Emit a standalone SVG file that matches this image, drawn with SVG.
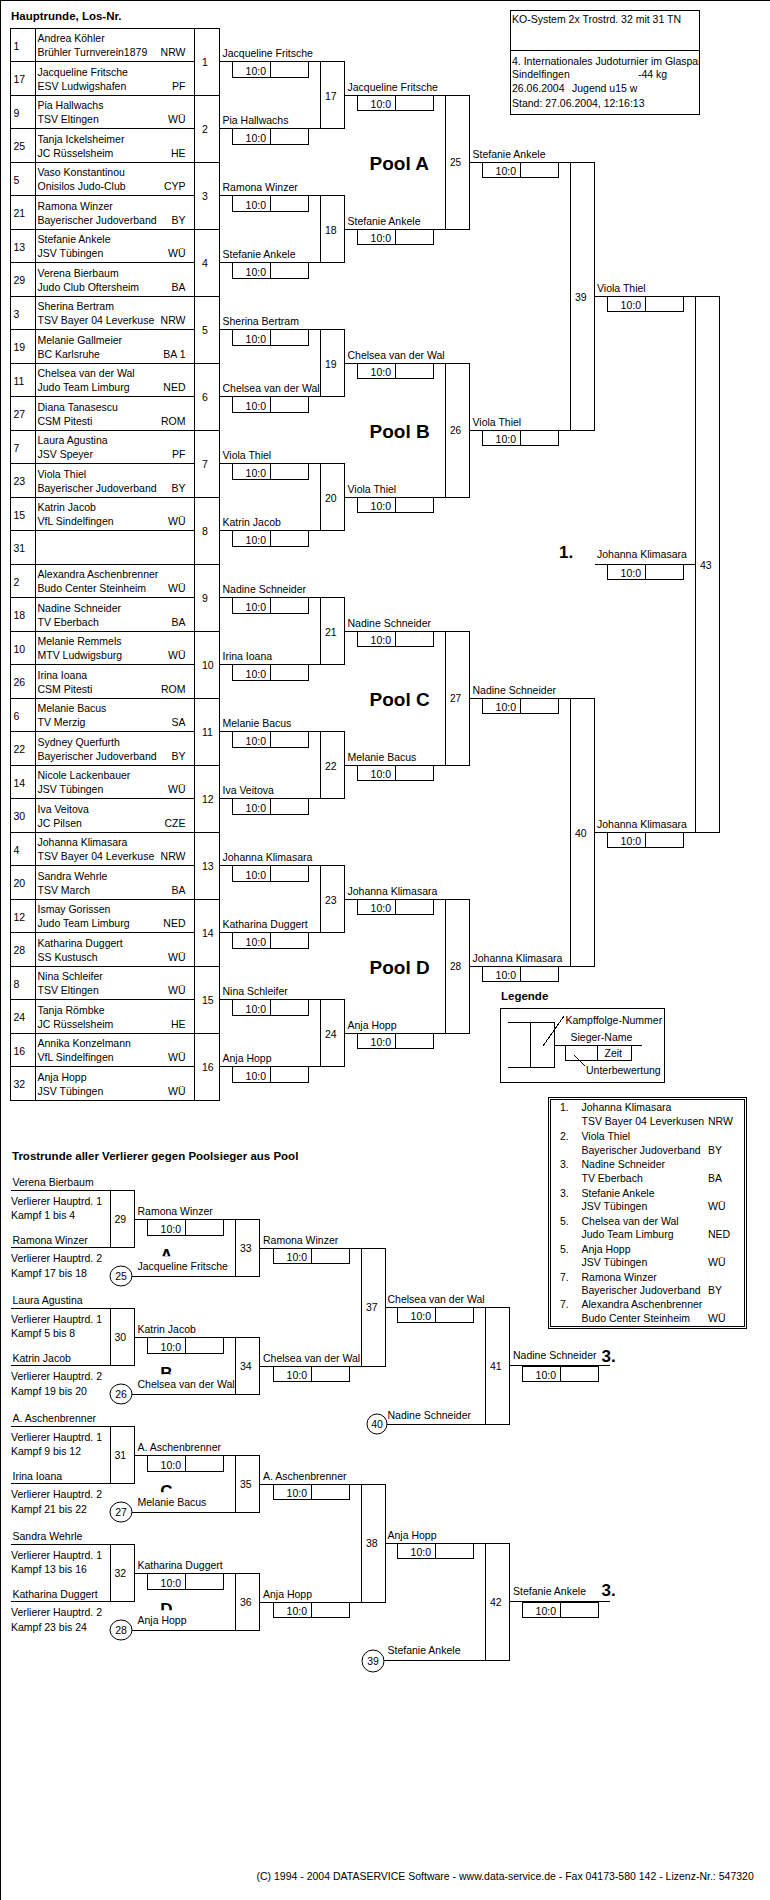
<svg xmlns="http://www.w3.org/2000/svg" xmlns:xlink="http://www.w3.org/1999/xlink" width="770" height="1900" viewBox="0 0 770 1900">
<style>
text{font-family:"Liberation Sans",Arial,sans-serif;font-size:10.5px;fill:#000}
rect,path,ellipse{fill:none;stroke:#000;stroke-width:1;shape-rendering:crispEdges}
ellipse{shape-rendering:auto}
.e{text-anchor:end}.m{text-anchor:middle}
.b{font-weight:bold;font-size:11.5px}
.pool{font-weight:bold;font-size:19px}
.rk{font-weight:bold;font-size:17px}
.n2{font-size:10px}
.lt{font-weight:bold;font-size:17px;text-anchor:middle}
</style>
<defs>
<g id="sb"><rect x="0" y="0" width="76" height="15.5"/><path d="M38 0V15.5"/></g>
<clipPath id="lc"><rect x="150" y="57" width="40" height="9.3"/></clipPath>
<clipPath id="hc"><rect x="511" y="51" width="188.5" height="63"/></clipPath>
</defs>
<rect x="0" y="0" width="770" height="1900" fill="#fff" stroke="none"/>

<text class="b" x="11" y="20">Hauptrunde, Los-Nr.</text>

<g id="header">
<rect x="510.5" y="10.5" width="189" height="104"/>
<path d="M510.5 50.5H699.5"/>
<text x="512" y="22.5">KO-System 2x Trostrd. 32 mit 31 TN</text>
<text x="512" y="65" clip-path="url(#hc)">4. Internationales Judoturnier im Glaspalast</text>
<text x="512" y="78">Sindelfingen</text>
<text x="638" y="78">-44 kg</text>
<text x="512" y="92">26.06.2004</text>
<text x="572" y="92">Jugend u15 w</text>
<text x="512" y="106.5">Stand: 27.06.2004, 12:16:13</text>
</g>

<g id="table">
<rect x="10.5" y="28" width="209" height="1072"/>
<path d="M35.5 28V1100M194.5 28V1100
M10.5 61.5H194.5M10.5 95H219.5M10.5 128.5H194.5M10.5 162H219.5M10.5 195.5H194.5M10.5 229H219.5M10.5 262.5H194.5M10.5 296H219.5
M10.5 329.5H194.5M10.5 363H219.5M10.5 396.5H194.5M10.5 430H219.5M10.5 463.5H194.5M10.5 497H219.5M10.5 530.5H194.5M10.5 564H219.5
M10.5 597.5H194.5M10.5 631H219.5M10.5 664.5H194.5M10.5 698H219.5M10.5 731.5H194.5M10.5 765H219.5M10.5 798.5H194.5M10.5 832H219.5
M10.5 865.5H194.5M10.5 899H219.5M10.5 932.5H194.5M10.5 966H219.5M10.5 999.5H194.5M10.5 1033H219.5M10.5 1066.5H194.5"/>
</g>

<g id="p01" transform="translate(0,28)"><text x="13.5" y="21.5">1</text><text x="37.5" y="14">Andrea Köhler</text><text x="37.5" y="28">Brühler Turnverein1879</text><text class="e" x="185.5" y="28">NRW</text></g>
<g id="p17" transform="translate(0,61.5)"><text x="13.5" y="21.5">17</text><text x="37.5" y="14">Jacqueline Fritsche</text><text x="37.5" y="28">ESV Ludwigshafen</text><text class="e" x="185.5" y="28">PF</text></g>
<g id="p09" transform="translate(0,95)"><text x="13.5" y="21.5">9</text><text x="37.5" y="14">Pia Hallwachs</text><text x="37.5" y="28">TSV Eltingen</text><text class="e" x="185.5" y="28">WÜ</text></g>
<g id="p25" transform="translate(0,128.5)"><text x="13.5" y="21.5">25</text><text x="37.5" y="14">Tanja Ickelsheimer</text><text x="37.5" y="28">JC Rüsselsheim</text><text class="e" x="185.5" y="28">HE</text></g>
<g id="p05" transform="translate(0,162)"><text x="13.5" y="21.5">5</text><text x="37.5" y="14">Vaso Konstantinou</text><text x="37.5" y="28">Onisilos Judo-Club</text><text class="e" x="185.5" y="28">CYP</text></g>
<g id="p21" transform="translate(0,195.5)"><text x="13.5" y="21.5">21</text><text x="37.5" y="14">Ramona Winzer</text><text x="37.5" y="28">Bayerischer Judoverband</text><text class="e" x="185.5" y="28">BY</text></g>
<g id="p13" transform="translate(0,229)"><text x="13.5" y="21.5">13</text><text x="37.5" y="14">Stefanie Ankele</text><text x="37.5" y="28">JSV Tübingen</text><text class="e" x="185.5" y="28">WÜ</text></g>
<g id="p29" transform="translate(0,262.5)"><text x="13.5" y="21.5">29</text><text x="37.5" y="14">Verena Bierbaum</text><text x="37.5" y="28">Judo Club Oftersheim</text><text class="e" x="185.5" y="28">BA</text></g>
<g id="p03" transform="translate(0,296)"><text x="13.5" y="21.5">3</text><text x="37.5" y="14">Sherina Bertram</text><text x="37.5" y="28">TSV Bayer 04 Leverkuse</text><text class="e" x="185.5" y="28">NRW</text></g>
<g id="p19" transform="translate(0,329.5)"><text x="13.5" y="21.5">19</text><text x="37.5" y="14">Melanie Gallmeier</text><text x="37.5" y="28">BC Karlsruhe</text><text class="e" x="185.5" y="28">BA 1</text></g>
<g id="p11" transform="translate(0,363)"><text x="13.5" y="21.5">11</text><text x="37.5" y="14">Chelsea van der Wal</text><text x="37.5" y="28">Judo Team Limburg</text><text class="e" x="185.5" y="28">NED</text></g>
<g id="p27" transform="translate(0,396.5)"><text x="13.5" y="21.5">27</text><text x="37.5" y="14">Diana Tanasescu</text><text x="37.5" y="28">CSM Pitesti</text><text class="e" x="185.5" y="28">ROM</text></g>
<g id="p07" transform="translate(0,430)"><text x="13.5" y="21.5">7</text><text x="37.5" y="14">Laura Agustina</text><text x="37.5" y="28">JSV Speyer</text><text class="e" x="185.5" y="28">PF</text></g>
<g id="p23" transform="translate(0,463.5)"><text x="13.5" y="21.5">23</text><text x="37.5" y="14">Viola Thiel</text><text x="37.5" y="28">Bayerischer Judoverband</text><text class="e" x="185.5" y="28">BY</text></g>
<g id="p15" transform="translate(0,497)"><text x="13.5" y="21.5">15</text><text x="37.5" y="14">Katrin Jacob</text><text x="37.5" y="28">VfL Sindelfingen</text><text class="e" x="185.5" y="28">WÜ</text></g>
<g id="p31" transform="translate(0,530.5)"><text x="13.5" y="21.5">31</text></g>
<g id="p02" transform="translate(0,564)"><text x="13.5" y="21.5">2</text><text x="37.5" y="14">Alexandra Aschenbrenner</text><text x="37.5" y="28">Budo Center Steinheim</text><text class="e" x="185.5" y="28">WÜ</text></g>
<g id="p18" transform="translate(0,597.5)"><text x="13.5" y="21.5">18</text><text x="37.5" y="14">Nadine Schneider</text><text x="37.5" y="28">TV Eberbach</text><text class="e" x="185.5" y="28">BA</text></g>
<g id="p10" transform="translate(0,631)"><text x="13.5" y="21.5">10</text><text x="37.5" y="14">Melanie Remmels</text><text x="37.5" y="28">MTV Ludwigsburg</text><text class="e" x="185.5" y="28">WÜ</text></g>
<g id="p26" transform="translate(0,664.5)"><text x="13.5" y="21.5">26</text><text x="37.5" y="14">Irina Ioana</text><text x="37.5" y="28">CSM Pitesti</text><text class="e" x="185.5" y="28">ROM</text></g>
<g id="p06" transform="translate(0,698)"><text x="13.5" y="21.5">6</text><text x="37.5" y="14">Melanie Bacus</text><text x="37.5" y="28">TV Merzig</text><text class="e" x="185.5" y="28">SA</text></g>
<g id="p22" transform="translate(0,731.5)"><text x="13.5" y="21.5">22</text><text x="37.5" y="14">Sydney Querfurth</text><text x="37.5" y="28">Bayerischer Judoverband</text><text class="e" x="185.5" y="28">BY</text></g>
<g id="p14" transform="translate(0,765)"><text x="13.5" y="21.5">14</text><text x="37.5" y="14">Nicole Lackenbauer</text><text x="37.5" y="28">JSV Tübingen</text><text class="e" x="185.5" y="28">WÜ</text></g>
<g id="p30" transform="translate(0,798.5)"><text x="13.5" y="21.5">30</text><text x="37.5" y="14">Iva Veitova</text><text x="37.5" y="28">JC Pilsen</text><text class="e" x="185.5" y="28">CZE</text></g>
<g id="p04" transform="translate(0,832)"><text x="13.5" y="21.5">4</text><text x="37.5" y="14">Johanna Klimasara</text><text x="37.5" y="28">TSV Bayer 04 Leverkuse</text><text class="e" x="185.5" y="28">NRW</text></g>
<g id="p20" transform="translate(0,865.5)"><text x="13.5" y="21.5">20</text><text x="37.5" y="14">Sandra Wehrle</text><text x="37.5" y="28">TSV March</text><text class="e" x="185.5" y="28">BA</text></g>
<g id="p12" transform="translate(0,899)"><text x="13.5" y="21.5">12</text><text x="37.5" y="14">Ismay Gorissen</text><text x="37.5" y="28">Judo Team Limburg</text><text class="e" x="185.5" y="28">NED</text></g>
<g id="p28" transform="translate(0,932.5)"><text x="13.5" y="21.5">28</text><text x="37.5" y="14">Katharina Duggert</text><text x="37.5" y="28">SS Kustusch</text><text class="e" x="185.5" y="28">WÜ</text></g>
<g id="p08" transform="translate(0,966)"><text x="13.5" y="21.5">8</text><text x="37.5" y="14">Nina Schleifer</text><text x="37.5" y="28">TSV Eltingen</text><text class="e" x="185.5" y="28">WÜ</text></g>
<g id="p24" transform="translate(0,999.5)"><text x="13.5" y="21.5">24</text><text x="37.5" y="14">Tanja Römbke</text><text x="37.5" y="28">JC Rüsselsheim</text><text class="e" x="185.5" y="28">HE</text></g>
<g id="p16" transform="translate(0,1033)"><text x="13.5" y="21.5">16</text><text x="37.5" y="14">Annika Konzelmann</text><text x="37.5" y="28">VfL Sindelfingen</text><text class="e" x="185.5" y="28">WÜ</text></g>
<g id="p32" transform="translate(0,1066.5)"><text x="13.5" y="21.5">32</text><text x="37.5" y="14">Anja Hopp</text><text x="37.5" y="28">JSV Tübingen</text><text class="e" x="185.5" y="28">WÜ</text></g>

<g id="connectors">
<path d="M219.5 61.5H344.5M219.5 128.5H344.5M219.5 195.5H344.5M219.5 262.5H344.5M219.5 329.5H344.5M219.5 396.5H344.5M219.5 463.5H344.5M219.5 530.5H344.5
M219.5 597.5H344.5M219.5 664.5H344.5M219.5 731.5H344.5M219.5 798.5H344.5M219.5 865.5H344.5M219.5 932.5H344.5M219.5 999.5H344.5M219.5 1066.5H344.5"/>
<path d="M344.5 95H469.5M344.5 229H469.5M344.5 363H469.5M344.5 497H469.5M344.5 631H469.5M344.5 765H469.5M344.5 899H469.5M344.5 1033H469.5"/>
<path d="M469.5 162H594.5M469.5 430H594.5M469.5 698H594.5M469.5 966H594.5"/>
<path d="M594.5 296H719.5M594.5 832H719.5M595 564H695.5"/>
<path d="M10.5 1190.5H134.5M10.5 1247.5H134.5M132 1276.5H259.5M134.5 1219.5H259.5M259.5 1248H385.5
M10.5 1308.5H134.5M10.5 1365.5H134.5M132 1394.5H259.5M134.5 1337.5H259.5M259.5 1366H385.5
M10.5 1426.5H134.5M10.5 1483.5H134.5M132 1512.5H259.5M134.5 1455.5H259.5M259.5 1484H385.5
M10.5 1544.5H134.5M10.5 1601.5H134.5M132 1630.5H259.5M134.5 1573.5H259.5M259.5 1602H385.5"/>
<path d="M385.5 1307H509.5M385.5 1543H509.5M387 1424H509.5M384 1660H509.5M509.5 1365.5H610M509.5 1601.5H610"/>
</g>

<g id="m1" transform="translate(0,61.5)"><text x="202" y="4.5">1</text><text x="222.5" y="-4.5">Jacqueline Fritsche</text><use href="#sb" x="232.5"/><text class="e" x="266" y="13">10:0</text></g>
<g id="m2" transform="translate(0,128.5)"><text x="202" y="4.5">2</text><text x="222.5" y="-4.5">Pia Hallwachs</text><use href="#sb" x="232.5"/><text class="e" x="266" y="13">10:0</text></g>
<g id="m3" transform="translate(0,195.5)"><text x="202" y="4.5">3</text><text x="222.5" y="-4.5">Ramona Winzer</text><use href="#sb" x="232.5"/><text class="e" x="266" y="13">10:0</text></g>
<g id="m4" transform="translate(0,262.5)"><text x="202" y="4.5">4</text><text x="222.5" y="-4.5">Stefanie Ankele</text><use href="#sb" x="232.5"/><text class="e" x="266" y="13">10:0</text></g>
<g id="m5" transform="translate(0,329.5)"><text x="202" y="4.5">5</text><text x="222.5" y="-4.5">Sherina Bertram</text><use href="#sb" x="232.5"/><text class="e" x="266" y="13">10:0</text></g>
<g id="m6" transform="translate(0,396.5)"><text x="202" y="4.5">6</text><text x="222.5" y="-4.5">Chelsea van der Wal</text><use href="#sb" x="232.5"/><text class="e" x="266" y="13">10:0</text></g>
<g id="m7" transform="translate(0,463.5)"><text x="202" y="4.5">7</text><text x="222.5" y="-4.5">Viola Thiel</text><use href="#sb" x="232.5"/><text class="e" x="266" y="13">10:0</text></g>
<g id="m8" transform="translate(0,530.5)"><text x="202" y="4.5">8</text><text x="222.5" y="-4.5">Katrin Jacob</text><use href="#sb" x="232.5"/><text class="e" x="266" y="13">10:0</text></g>
<g id="m9" transform="translate(0,597.5)"><text x="202" y="4.5">9</text><text x="222.5" y="-4.5">Nadine Schneider</text><use href="#sb" x="232.5"/><text class="e" x="266" y="13">10:0</text></g>
<g id="m10" transform="translate(0,664.5)"><text x="202" y="4.5">10</text><text x="222.5" y="-4.5">Irina Ioana</text><use href="#sb" x="232.5"/><text class="e" x="266" y="13">10:0</text></g>
<g id="m11" transform="translate(0,731.5)"><text x="202" y="4.5">11</text><text x="222.5" y="-4.5">Melanie Bacus</text><use href="#sb" x="232.5"/><text class="e" x="266" y="13">10:0</text></g>
<g id="m12" transform="translate(0,798.5)"><text x="202" y="4.5">12</text><text x="222.5" y="-4.5">Iva Veitova</text><use href="#sb" x="232.5"/><text class="e" x="266" y="13">10:0</text></g>
<g id="m13" transform="translate(0,865.5)"><text x="202" y="4.5">13</text><text x="222.5" y="-4.5">Johanna Klimasara</text><use href="#sb" x="232.5"/><text class="e" x="266" y="13">10:0</text></g>
<g id="m14" transform="translate(0,932.5)"><text x="202" y="4.5">14</text><text x="222.5" y="-4.5">Katharina Duggert</text><use href="#sb" x="232.5"/><text class="e" x="266" y="13">10:0</text></g>
<g id="m15" transform="translate(0,999.5)"><text x="202" y="4.5">15</text><text x="222.5" y="-4.5">Nina Schleifer</text><use href="#sb" x="232.5"/><text class="e" x="266" y="13">10:0</text></g>
<g id="m16" transform="translate(0,1066.5)"><text x="202" y="4.5">16</text><text x="222.5" y="-4.5">Anja Hopp</text><use href="#sb" x="232.5"/><text class="e" x="266" y="13">10:0</text></g>

<g id="m17" transform="translate(0,95)"><rect x="320.5" y="-33.5" width="24" height="67"/><text x="325" y="4.5">17</text><text x="347.5" y="-4.5">Jacqueline Fritsche</text><use href="#sb" x="357.5"/><text class="e" x="391" y="13">10:0</text></g>
<g id="m18" transform="translate(0,229)"><rect x="320.5" y="-33.5" width="24" height="67"/><text x="325" y="4.5">18</text><text x="347.5" y="-4.5">Stefanie Ankele</text><use href="#sb" x="357.5"/><text class="e" x="391" y="13">10:0</text></g>
<g id="m19" transform="translate(0,363)"><rect x="320.5" y="-33.5" width="24" height="67"/><text x="325" y="4.5">19</text><text x="347.5" y="-4.5">Chelsea van der Wal</text><use href="#sb" x="357.5"/><text class="e" x="391" y="13">10:0</text></g>
<g id="m20" transform="translate(0,497)"><rect x="320.5" y="-33.5" width="24" height="67"/><text x="325" y="4.5">20</text><text x="347.5" y="-4.5">Viola Thiel</text><use href="#sb" x="357.5"/><text class="e" x="391" y="13">10:0</text></g>
<g id="m21" transform="translate(0,631)"><rect x="320.5" y="-33.5" width="24" height="67"/><text x="325" y="4.5">21</text><text x="347.5" y="-4.5">Nadine Schneider</text><use href="#sb" x="357.5"/><text class="e" x="391" y="13">10:0</text></g>
<g id="m22" transform="translate(0,765)"><rect x="320.5" y="-33.5" width="24" height="67"/><text x="325" y="4.5">22</text><text x="347.5" y="-4.5">Melanie Bacus</text><use href="#sb" x="357.5"/><text class="e" x="391" y="13">10:0</text></g>
<g id="m23" transform="translate(0,899)"><rect x="320.5" y="-33.5" width="24" height="67"/><text x="325" y="4.5">23</text><text x="347.5" y="-4.5">Johanna Klimasara</text><use href="#sb" x="357.5"/><text class="e" x="391" y="13">10:0</text></g>
<g id="m24" transform="translate(0,1033)"><rect x="320.5" y="-33.5" width="24" height="67"/><text x="325" y="4.5">24</text><text x="347.5" y="-4.5">Anja Hopp</text><use href="#sb" x="357.5"/><text class="e" x="391" y="13">10:0</text></g>

<g id="m25" transform="translate(0,162)"><rect x="445.5" y="-67" width="24" height="134"/><text class="n2" x="450" y="4">25</text><text class="pool" x="369.5" y="8">Pool A</text><text x="472.5" y="-4.5">Stefanie Ankele</text><use href="#sb" x="482.5"/><text class="e" x="516" y="13">10:0</text></g>
<g id="m26" transform="translate(0,430)"><rect x="445.5" y="-67" width="24" height="134"/><text class="n2" x="450" y="4">26</text><text class="pool" x="369.5" y="8">Pool B</text><text x="472.5" y="-4.5">Viola Thiel</text><use href="#sb" x="482.5"/><text class="e" x="516" y="13">10:0</text></g>
<g id="m27" transform="translate(0,698)"><rect x="445.5" y="-67" width="24" height="134"/><text class="n2" x="450" y="4">27</text><text class="pool" x="369.5" y="8">Pool C</text><text x="472.5" y="-4.5">Nadine Schneider</text><use href="#sb" x="482.5"/><text class="e" x="516" y="13">10:0</text></g>
<g id="m28" transform="translate(0,966)"><rect x="445.5" y="-67" width="24" height="134"/><text class="n2" x="450" y="4">28</text><text class="pool" x="369.5" y="8">Pool D</text><text x="472.5" y="-4.5">Johanna Klimasara</text><use href="#sb" x="482.5"/><text class="e" x="516" y="13">10:0</text></g>

<g id="m39" transform="translate(0,296)"><rect x="570.5" y="-134" width="24" height="268"/><text x="575" y="5">39</text><text x="597" y="-4.5">Viola Thiel</text><use href="#sb" x="607.5"/><text class="e" x="641" y="13">10:0</text></g>
<g id="m40" transform="translate(0,832)"><rect x="570.5" y="-134" width="24" height="268"/><text x="575" y="5">40</text><text x="597" y="-4.5">Johanna Klimasara</text><use href="#sb" x="607.5"/><text class="e" x="641" y="13">10:0</text></g>
<g id="m43" transform="translate(0,564)"><rect x="695.5" y="-268" width="24" height="536"/><text x="700" y="4.5">43</text><text class="rk" x="559" y="-6.5">1.</text><text x="597" y="-6.5">Johanna Klimasara</text><use href="#sb" x="607.5"/><text class="e" x="641" y="13">10:0</text></g>

<g id="legend">
<text class="b" x="501" y="1000">Legende</text>
<rect x="500.5" y="1008.5" width="164" height="74"/>
<path d="M507.5 1022.5H530.5M507.5 1067.5H530.5M554.5 1045.5H641.5M597.5 1045.5V1060M543 1046L564 1016M574 1055L585 1066"/>
<rect x="530.5" y="1022.5" width="24" height="45"/>
<rect x="565.5" y="1045.5" width="66" height="14.5"/>
<text x="565.5" y="1024">Kampffolge-Nummer</text>
<text x="570.5" y="1041">Sieger-Name</text>
<text x="604.5" y="1057">Zeit</text>
<text x="586" y="1073.5">Unterbewertung</text>
</g>

<g id="ranking">
<rect x="548.5" y="1097.5" width="198" height="231"/>
<rect x="550.5" y="1099.5" width="194" height="227"/>
<text x="560" y="1111">1.</text><text x="581.5" y="1111">Johanna Klimasara</text><text x="581.5" y="1124.5">TSV Bayer 04 Leverkusen</text><text x="708" y="1124.5">NRW</text>
<text x="560" y="1140">2.</text><text x="581.5" y="1140">Viola Thiel</text><text x="581.5" y="1153.5">Bayerischer Judoverband</text><text x="708" y="1153.5">BY</text>
<text x="560" y="1168">3.</text><text x="581.5" y="1168">Nadine Schneider</text><text x="581.5" y="1181.5">TV Eberbach</text><text x="708" y="1181.5">BA</text>
<text x="560" y="1196.5">3.</text><text x="581.5" y="1196.5">Stefanie Ankele</text><text x="581.5" y="1210">JSV Tübingen</text><text x="708" y="1210">WÜ</text>
<text x="560" y="1224.5">5.</text><text x="581.5" y="1224.5">Chelsea van der Wal</text><text x="581.5" y="1238">Judo Team Limburg</text><text x="708" y="1238">NED</text>
<text x="560" y="1252.5">5.</text><text x="581.5" y="1252.5">Anja Hopp</text><text x="581.5" y="1266">JSV Tübingen</text><text x="708" y="1266">WÜ</text>
<text x="560" y="1280.5">7.</text><text x="581.5" y="1280.5">Ramona Winzer</text><text x="581.5" y="1294">Bayerischer Judoverband</text><text x="708" y="1294">BY</text>
<text x="560" y="1308">7.</text><text x="581.5" y="1308">Alexandra Aschenbrenner</text><text x="581.5" y="1321.5">Budo Center Steinheim</text><text x="708" y="1321.5">WÜ</text>
</g>

<text class="b" x="12" y="1160">Trostrunde aller Verlierer gegen Poolsieger aus Pool</text>

<g id="t29" transform="translate(0,1190)">
<text x="12.5" y="-4">Verena Bierbaum</text><text x="11" y="14.5">Verlierer Hauptrd. 1</text><text x="11" y="29">Kampf 1 bis 4</text>
<text x="12.5" y="53.5">Ramona Winzer</text><text x="11" y="72">Verlierer Hauptrd. 2</text><text x="11" y="87">Kampf 17 bis 18</text>
<rect x="110.5" y=".5" width="24" height="57"/><text x="114.5" y="33">29</text>
<text x="137.5" y="25">Ramona Winzer</text><use href="#sb" x="147.5" y="29.5"/><text class="e" x="181" y="42.5">10:0</text>
</g>
<g id="c25" transform="translate(0,1190)"><ellipse cx="121" cy="86" rx="11" ry="10"/><text class="m" x="121" y="90">25</text>
<text class="lt" x="166.5" y="71" clip-path="url(#lc)">A</text><text x="137.5" y="80">Jacqueline Fritsche</text></g>
<g id="t33" transform="translate(0,1190)"><rect x="235.5" y="29.5" width="24" height="57"/><text x="240" y="62">33</text>
<text x="263" y="53.5">Ramona Winzer</text><use href="#sb" x="273.5" y="58"/><text class="e" x="307" y="71">10:0</text></g>

<g id="t30" transform="translate(0,1308)">
<text x="12.5" y="-4">Laura Agustina</text><text x="11" y="14.5">Verlierer Hauptrd. 1</text><text x="11" y="29">Kampf 5 bis 8</text>
<text x="12.5" y="53.5">Katrin Jacob</text><text x="11" y="72">Verlierer Hauptrd. 2</text><text x="11" y="87">Kampf 19 bis 20</text>
<rect x="110.5" y=".5" width="24" height="57"/><text x="114.5" y="33">30</text>
<text x="137.5" y="25">Katrin Jacob</text><use href="#sb" x="147.5" y="29.5"/><text class="e" x="181" y="42.5">10:0</text>
</g>
<g id="c26" transform="translate(0,1308)"><ellipse cx="121" cy="86" rx="11" ry="10"/><text class="m" x="121" y="90">26</text>
<text class="lt" x="166.5" y="71" clip-path="url(#lc)">B</text><text x="137.5" y="80">Chelsea van der Wal</text></g>
<g id="t34" transform="translate(0,1308)"><rect x="235.5" y="29.5" width="24" height="57"/><text x="240" y="62">34</text>
<text x="263" y="53.5">Chelsea van der Wal</text><use href="#sb" x="273.5" y="58"/><text class="e" x="307" y="71">10:0</text></g>

<g id="t31" transform="translate(0,1426)">
<text x="12.5" y="-4">A. Aschenbrenner</text><text x="11" y="14.5">Verlierer Hauptrd. 1</text><text x="11" y="29">Kampf 9 bis 12</text>
<text x="12.5" y="53.5">Irina Ioana</text><text x="11" y="72">Verlierer Hauptrd. 2</text><text x="11" y="87">Kampf 21 bis 22</text>
<rect x="110.5" y=".5" width="24" height="57"/><text x="114.5" y="33">31</text>
<text x="137.5" y="25">A. Aschenbrenner</text><use href="#sb" x="147.5" y="29.5"/><text class="e" x="181" y="42.5">10:0</text>
</g>
<g id="c27" transform="translate(0,1426)"><ellipse cx="121" cy="86" rx="11" ry="10"/><text class="m" x="121" y="90">27</text>
<text class="lt" x="166.5" y="71" clip-path="url(#lc)">C</text><text x="137.5" y="80">Melanie Bacus</text></g>
<g id="t35" transform="translate(0,1426)"><rect x="235.5" y="29.5" width="24" height="57"/><text x="240" y="62">35</text>
<text x="263" y="53.5">A. Aschenbrenner</text><use href="#sb" x="273.5" y="58"/><text class="e" x="307" y="71">10:0</text></g>

<g id="t32" transform="translate(0,1544)">
<text x="12.5" y="-4">Sandra Wehrle</text><text x="11" y="14.5">Verlierer Hauptrd. 1</text><text x="11" y="29">Kampf 13 bis 16</text>
<text x="12.5" y="53.5">Katharina Duggert</text><text x="11" y="72">Verlierer Hauptrd. 2</text><text x="11" y="87">Kampf 23 bis 24</text>
<rect x="110.5" y=".5" width="24" height="57"/><text x="114.5" y="33">32</text>
<text x="137.5" y="25">Katharina Duggert</text><use href="#sb" x="147.5" y="29.5"/><text class="e" x="181" y="42.5">10:0</text>
</g>
<g id="c28" transform="translate(0,1544)"><ellipse cx="121" cy="86" rx="11" ry="10"/><text class="m" x="121" y="90">28</text>
<text class="lt" x="166.5" y="71" clip-path="url(#lc)">D</text><text x="137.5" y="80">Anja Hopp</text></g>
<g id="t36" transform="translate(0,1544)"><rect x="235.5" y="29.5" width="24" height="57"/><text x="240" y="62">36</text>
<text x="263" y="53.5">Anja Hopp</text><use href="#sb" x="273.5" y="58"/><text class="e" x="307" y="71">10:0</text></g>

<g id="t37"><rect x="361.5" y="1248" width="24" height="118"/><text x="366" y="1311">37</text>
<text x="387.5" y="1302.5">Chelsea van der Wal</text><use href="#sb" x="397.5" y="1307"/><text class="e" x="431" y="1320">10:0</text></g>
<g id="t38"><rect x="361.5" y="1484" width="24" height="118"/><text x="366" y="1547">38</text>
<text x="387.5" y="1538.5">Anja Hopp</text><use href="#sb" x="397.5" y="1543"/><text class="e" x="431" y="1556">10:0</text></g>
<g id="c40"><ellipse cx="377" cy="1424" rx="10" ry="10"/><text class="m" x="377" y="1428">40</text><text x="387.5" y="1418.5">Nadine Schneider</text></g>
<g id="c39"><ellipse cx="373" cy="1661" rx="11" ry="11"/><text class="m" x="373" y="1665">39</text><text x="387.5" y="1653.5">Stefanie Ankele</text></g>
<g id="t41"><rect x="485.5" y="1307" width="24" height="117"/><text x="490" y="1370">41</text>
<text x="513" y="1359">Nadine Schneider</text><use href="#sb" x="522.5" y="1366"/><text class="e" x="556" y="1379">10:0</text><text class="rk" x="601.5" y="1361.5">3.</text></g>
<g id="t42"><rect x="485.5" y="1543" width="24" height="117"/><text x="490" y="1606">42</text>
<text x="513" y="1595">Stefanie Ankele</text><use href="#sb" x="522.5" y="1602"/><text class="e" x="556" y="1615">10:0</text><text class="rk" x="601.5" y="1596">3.</text></g>

<text x="256.5" y="1880">(C) 1994 - 2004 DATASERVICE Software - www.data-service.de - Fax 04173-580 142 - Lizenz-Nr.: 547320</text>
</svg>
